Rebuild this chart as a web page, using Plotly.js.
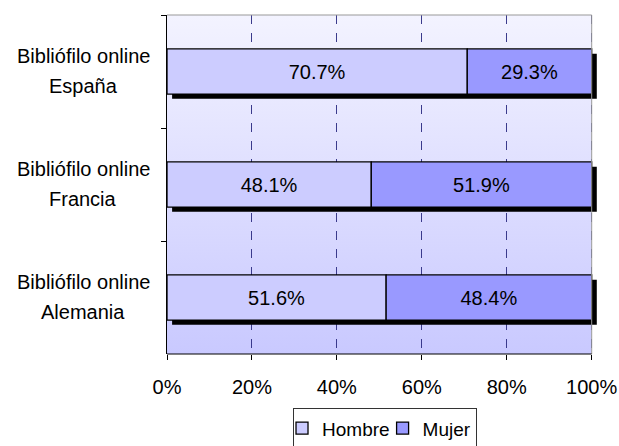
<!DOCTYPE html>
<html>
<head>
<meta charset="utf-8">
<script src="https://cdn.plot.ly/plotly-3.0.1.min.js"></script>
<style>html,body{margin:0;padding:0;background:#fff;}#chart{width:619px;height:446px;}</style>
</head>
<body>
<div id="chart"></div>
<script>
// Data
const countries = ["España", "Francia", "Alemania"];
const labelPrefix = "Bibliófilo online";
const hombre = [70.7, 48.1, 51.6];
const mujer = [29.3, 51.9, 48.4];
const xTicks = [0, 20, 40, 60, 80, 100];
const xTickLabels = ["0%", "20%", "40%", "60%", "80%", "100%"];

const FONT = "Liberation Sans, Arial, sans-serif";
const FS = 20;
const barW = 0.4;
const shadowShift = 1.2;           // shadow offset in axis units (about 5 px)
const xMin = xTicks[0], xMax = xTicks[xTicks.length - 1];
const totals = hombre.map((h, i) => h + mujer[i]);

const shadow = {
  type: "bar", orientation: "h", y: countries, x: totals,
  base: shadowShift, width: barW, offset: -barW / 2 + 0.042,
  marker: {color: "#000000", line: {width: 0}},
  showlegend: false, hoverinfo: "skip"
};
const tH = {
  type: "bar", orientation: "h", name: "Hombre", y: countries, x: hombre,
  base: 0, width: barW,
  marker: {color: "#CCCCFF", line: {color: "#000000", width: 1.3}},
  text: hombre.map(v => v.toFixed(1) + "%"), textposition: "inside",
  insidetextanchor: "middle", constraintext: "none",
  textfont: {family: FONT, size: FS, color: "#000"}, hoverinfo: "skip"
};
const tM = {
  type: "bar", orientation: "h", name: "Mujer", y: countries, x: mujer,
  base: hombre, width: barW,
  marker: {color: "#9999FF", line: {color: "#000000", width: 1.3}},
  text: mujer.map(v => v.toFixed(1) + "%"), textposition: "inside",
  insidetextanchor: "middle", constraintext: "none",
  textfont: {family: FONT, size: FS, color: "#000"}, hoverinfo: "skip"
};

const annotations = [];
countries.forEach(c => {
  annotations.push({xref: "paper", yref: "y", x: -0.195, y: c, text: labelPrefix, showarrow: false,
    xanchor: "center", yanchor: "middle", yshift: 16, font: {family: FONT, size: FS, color: "#000"}});
  annotations.push({xref: "paper", yref: "y", x: -0.195, y: c, text: c, showarrow: false,
    xanchor: "center", yanchor: "middle", yshift: -14, font: {family: FONT, size: FS, color: "#000"}});
});

const svgBg = '<svg xmlns="http://www.w3.org/2000/svg" width="10" height="100" preserveAspectRatio="none">' +
  '<defs><linearGradient id="g" x1="0" y1="0" x2="0" y2="1"><stop offset="0" stop-color="#F3F3FF"/>' +
  '<stop offset="1" stop-color="#C9C9FF"/></linearGradient></defs><rect width="10" height="100" fill="url(#g)"/></svg>';

const layout = {
  width: 619, height: 446,
  margin: {l: 167, r: 22, t: 15, b: 92, pad: 0, autoexpand: false},
  paper_bgcolor: "#ffffff", plot_bgcolor: "rgba(0,0,0,0)",
  barmode: "overlay",
  font: {family: FONT, size: FS, color: "#000"},
  xaxis: {
    range: [xMin, xMax + shadowShift + 0.05], tickvals: xTicks, ticktext: xTickLabels,
    showgrid: true, gridcolor: "#3a3a8c", griddash: "dash", gridwidth: 1,
    showline: false,
    ticks: "outside", ticklen: 5, tickcolor: "#000",
    tickfont: {family: FONT, size: FS, color: "#000"},
    ticklabelstandoff: 10, zeroline: false, fixedrange: true
  },
  yaxis: {
    type: "category", autorange: "reversed",
    showticklabels: false, showgrid: false, zeroline: false,
    showline: true, linecolor: "#000", linewidth: 1,
    ticks: "outside", ticklen: 5, tickcolor: "#000", tickson: "boundaries",
    fixedrange: true
  },
  images: [{
    source: "data:image/svg+xml;charset=utf-8," + encodeURIComponent(svgBg),
    xref: "x", yref: "y domain", x: xMin, y: 1, sizex: xMax - xMin, sizey: 1,
    xanchor: "left", yanchor: "top", sizing: "stretch", layer: "below"
  }],
  shapes: [
    {type: "line", xref: "x", yref: "y domain", x0: xMin, x1: xMax, y0: 1, y1: 1, line: {color: "#999999", width: 1}, layer: "above"},
    {type: "line", xref: "x", yref: "y domain", x0: xMax, x1: xMax, y0: 0, y1: 1, line: {color: "#999999", width: 1}, layer: "above"},
    {type: "line", xref: "x", yref: "y domain", x0: xMin, x1: xMax, y0: 0, y1: 0, line: {color: "#000000", width: 1}, layer: "above"}
  ],
  annotations: annotations,
  showlegend: true,
  legend: {
    orientation: "h", x: 0.507, xanchor: "center", y: -0.16, yanchor: "top",
    bordercolor: "#333333", borderwidth: 1, bgcolor: "#fff",
    font: {family: FONT, size: 19, color: "#000"},
    indentation: -12, tracegroupgap: 0
  }
};

Plotly.newPlot("chart", [shadow, tH, tM], layout, {staticPlot: true, displayModeBar: false});
</script>
</body>
</html>
